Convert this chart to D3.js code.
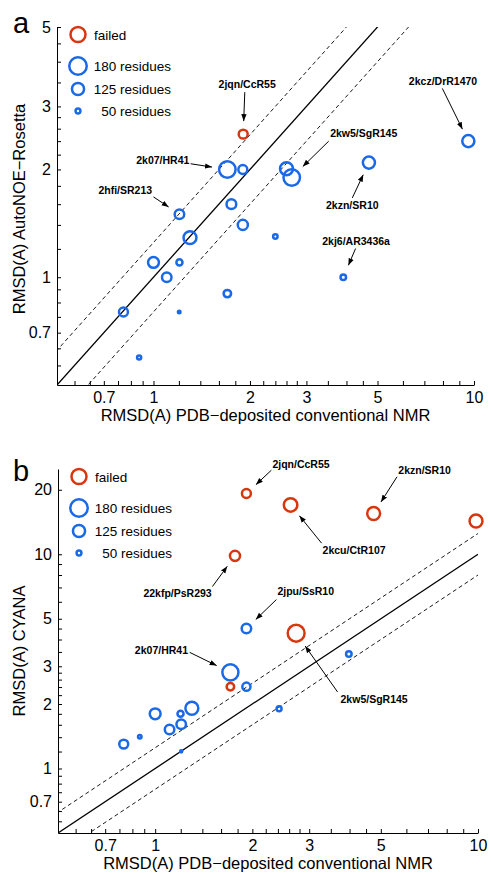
<!DOCTYPE html>
<html>
<head>
<meta charset="utf-8">
<script src="https://cdn.jsdelivr.net/npm/d3@7"></script>
<style>
  body { margin: 0; background: #fff; }
  text { font-family: "Liberation Sans", Arial, sans-serif; }
</style>
</head>
<body>
<svg id="fig" width="491" height="873"></svg>
<script>
// panel a: AutoNOE-Rosetta vs PDB-deposited conventional NMR
const aRef    = [1.905, 1.70, 1.90, 2.60, 2.70, 4.70, 9.6, 1.75, 1.90, 2.40, 3.91, 1.70, 1.205, 1.30, 1.0, 1.205, 1.10, 0.806, 1.203, 0.902];
const aRmsd   = [2.51, 2.0, 2.0, 2.01, 1.90, 2.09, 2.40, 1.60, 1.40, 1.30, 1.0, 0.90, 1.50, 1.29, 1.10, 1.10, 1.0, 0.80, 0.80, 0.597];
const aRes    = [92, 170, 92, 133, 170, 125, 125, 100, 104, 46, 57, 77, 98, 133, 112, 63, 98, 92, 26, 42];
const aFailed = [1, 0, 0, 0, 0, 0, 0, 0, 0, 0, 0, 0, 0, 0, 0, 0, 0, 0, 0, 0];

// panel b: CYANA vs PDB-deposited conventional NMR
const bRef    = [1.917, 2.627, 4.75, 9.86, 1.767, 1.917, 2.733, 1.71, 1.71, 1.917, 2.42, 3.98, 1.0, 1.198, 1.299, 1.108, 1.204, 0.799, 0.896, 1.204];
const bRmsd   = [19.2, 17.0, 15.5, 14.3, 9.83, 4.50, 4.28, 2.81, 2.41, 2.41, 1.90, 3.42, 1.80, 1.80, 1.91, 1.52, 1.61, 1.30, 1.408, 1.203];
const bRes    = [92, 139, 133, 133, 104, 98, 174, 166, 77, 84, 51, 57, 112, 63, 133, 98, 98, 92, 36, 22];
const bFailed = [1, 1, 1, 1, 1, 0, 1, 0, 1, 0, 0, 0, 0, 0, 0, 0, 0, 0, 0, 0];

// labelled structures (index into the arrays above)
const aNames = ["2jqn/CcR55", "2k07/HR41", "2kw5/SgR145", "2kzn/SR10", "2kcz/DrR1470", "2kj6/AR3436a", "2hfi/SR213"];
const aNameIdx = [0, 1, 4, 5, 6, 10, 12];
const bNames = ["2jqn/CcR55", "2kzn/SR10", "2kcu/CtR107", "22kfp/PsR293", "2jpu/SsR10", "2k07/HR41", "2kw5/SgR145"];
const bNameIdx = [0, 2, 1, 4, 5, 7, 6];

// legend
const legendLabels = ["failed", "180 residues", "125 residues", "50 residues"];
const legendRes = [155, 180, 125, 50];
const legendFailed = [1, 0, 0, 0];

// ticks
const xMajor = [0.7, 1, 2, 3, 5, 10];
const xMinor = [0.567, 0.633, 0.775, 0.85, 0.925, 1.2, 1.4, 1.6, 1.8, 2.2, 2.4, 2.6, 2.8, 3.5, 4, 4.5, 6, 7, 8, 9];
const aYMajor = [0.7, 1, 2, 3, 5];
const aYMinor = [0.567, 0.633, 0.775, 0.85, 0.925, 1.2, 1.4, 1.6, 1.8, 2.2, 2.4, 2.6, 2.8, 3.5, 4, 4.5];
const bYMajor = [0.7, 1, 2, 3, 5, 10, 20];
const bYMinor = [0.567, 0.633, 0.775, 0.85, 0.925, 1.2, 1.4, 1.6, 1.8, 2.2, 2.4, 2.6, 2.8, 3.5, 4, 4.5, 6, 7, 8, 9];

// reference lines y = f * x
const diagFactors = [1, 1.25, 0.8];

const BLUE = "#1a69e6", RED = "#d7370f";
const svg = d3.select("#fig");
const defs = svg.append("defs");
defs.append("marker")
  .attr("id", "arrow")
  .attr("viewBox", "0 0 10 10")
  .attr("refX", 10).attr("refY", 5)
  .attr("markerWidth", 7).attr("markerHeight", 7)
  .attr("markerUnits", "userSpaceOnUse")
  .attr("orient", "auto")
  .append("path").attr("d", "M0,1.2L10,5L0,8.8Z").attr("fill", "#000");

const radius = n => n * 0.0485;

function drawPanel(cfg) {
  const g = svg.append("g");
  const x = d3.scaleLog().domain([0.5, 10]).range(cfg.xr);
  const y = d3.scaleLog().domain(cfg.yd).range(cfg.yr);

  defs.append("clipPath").attr("id", "clip-" + cfg.key)
    .append("rect")
    .attr("x", cfg.xr[0]).attr("y", cfg.yr[1])
    .attr("width", cfg.xr[1] - cfg.xr[0]).attr("height", cfg.yr[0] - cfg.yr[1]);

  // diagonals
  const lg = g.append("g").attr("clip-path", `url(#clip-${cfg.key})`);
  diagFactors.forEach(f => {
    lg.append("line")
      .attr("x1", x(0.3)).attr("y1", y(0.3 * f))
      .attr("x2", x(10)).attr("y2", y(10 * f))
      .attr("stroke", "#000")
      .attr("stroke-width", f === 1 ? 1.3 : 0.9)
      .attr("stroke-dasharray", f === 1 ? null : "4,3");
  });

  // axes
  const fmt = majors => d => majors.includes(d) ? String(d) : "";
  const xa = g.append("g").attr("transform", `translate(0,${cfg.yr[0]})`)
    .call(d3.axisBottom(x).tickValues(xMajor.concat(xMinor)).tickSizeInner(-4).tickSizeOuter(0)
      .tickPadding(7).tickFormat(fmt(xMajor)));
  const ya = g.append("g").attr("transform", `translate(${cfg.xr[0]},0)`)
    .call(d3.axisLeft(y).tickValues(cfg.yMajor.concat(cfg.yMinor)).tickSizeInner(-4).tickSizeOuter(0)
      .tickPadding(6).tickFormat(fmt(cfg.yMajor)));
  [xa, ya].forEach(a => {
    a.attr("font-family", null).attr("font-size", null);
    a.selectAll("text").attr("font-size", "16px").attr("fill", "#000");
    a.selectAll("line,path").attr("stroke", "#000");
  });

  // axis titles
  g.append("text")
    .attr("x", (cfg.xr[0] + cfg.xr[1]) / 2).attr("y", cfg.yr[0] + 36)
    .attr("text-anchor", "middle").attr("font-size", "16.5px")
    .text("RMSD(A) PDB\u2212deposited conventional NMR");
  g.append("text")
    .attr("transform", `translate(25,${(cfg.yr[0] + cfg.yr[1]) / 2 + cfg.ylabShift}) rotate(-90)`)
    .attr("text-anchor", "middle").attr("font-size", "16.5px")
    .text(cfg.ylabel);

  // panel letter
  g.append("text").attr("x", 13).attr("y", cfg.yr[1] + cfg.letterDy)
    .attr("font-size", "29px").text(cfg.letter);

  // points
  const pts = cfg.xs.map((v, i) => ({ x: v, y: cfg.ys[i], n: cfg.res[i], failed: cfg.failed[i] }));
  g.append("g").selectAll("circle").data(pts).join("circle")
    .attr("cx", d => x(d.x)).attr("cy", d => y(d.y))
    .attr("r", d => radius(d.n))
    .attr("fill", "none")
    .attr("stroke", d => d.failed ? RED : BLUE)
    .attr("stroke-width", 2.5);

  // legend
  const leg = g.append("g");
  const legY = [7.5, 39, 62, 84];
  legendLabels.forEach((lab, i) => {
    const cy = cfg.yr[1] + legY[i];
    leg.append("circle").attr("cx", cfg.xr[0] + 21).attr("cy", cy)
      .attr("r", radius(legendRes[i])).attr("fill", "none")
      .attr("stroke", legendFailed[i] ? RED : BLUE).attr("stroke-width", 2.5);
    leg.append("text")
      .attr("x", legendFailed[i] ? cfg.xr[0] + 37 : cfg.xr[0] + 114)
      .attr("y", cy + 5)
      .attr("text-anchor", legendFailed[i] ? "start" : "end")
      .attr("font-size", "13.5px").text(lab);
  });

  // annotations
  cfg.notes.forEach((nt, k) => {
    const p = pts[cfg.noteIdx[k]];
    const cx = x(p.x), cy = y(p.y);
    const tx = cx + nt[1], ty = cy + nt[2];
    const ax = cx + nt[3], ay = cy + nt[4];
    const dx = cx - ax, dy = cy - ay, dist = Math.hypot(dx, dy);
    const stop = Math.max(radius(p.n) + 1.25 + 6, 13);
    g.append("line")
      .attr("x1", ax).attr("y1", ay)
      .attr("x2", cx - dx / dist * stop).attr("y2", cy - dy / dist * stop)
      .attr("stroke", "#000").attr("stroke-width", 1)
      .attr("marker-end", "url(#arrow)");
    g.append("text").attr("x", tx).attr("y", ty)
      .attr("text-anchor", nt[0]).attr("font-size", "10.5px").attr("font-weight", "bold")
      .text(cfg.names[k]);
  });
}

// annotation layout: [anchor, text dx, text dy, arrow tail dx, arrow tail dy] relative to the point
drawPanel({
  key: "a", letter: "a", letterDy: 6,
  xr: [57, 474], yr: [385, 27], yd: [0.5, 5],
  yMajor: aYMajor, yMinor: aYMinor,
  ylabel: "RMSD(A) AutoNOE\u2212Rosetta", ylabShift: 3,
  xs: aRef, ys: aRmsd, res: aRes, failed: aFailed,
  names: aNames, noteIdx: aNameIdx,
  notes: [
    ["middle", 4, -46, 1.6, -42],
    ["end", -38, -5.4, -36.7, -5.7],
    ["start", 38.4, -40.6, 37, -36.3],
    ["middle", -16.6, 46.3, -16.6, 35.3],
    ["middle", -25.3, -56, -26, -52.7],
    ["middle", 12.8, -32.3, 12.3, -28.7],
    ["end", -27.3, -20, -26, -17.3]
  ]
});

drawPanel({
  key: "b", letter: "b", letterDy: 12,
  xr: [58, 478], yr: [833, 469], yd: [0.5, 25],
  yMajor: bYMajor, yMinor: bYMinor,
  ylabel: "RMSD(A) CYANA", ylabShift: 0,
  xs: bRef, ys: bRmsd, res: bRes, failed: bFailed,
  names: bNames, noteIdx: bNameIdx,
  notes: [
    ["start", 26, -26, 25, -23.4],
    ["start", 24.7, -39.4, 23.4, -36.7],
    ["start", 32, 48.7, 31, 38.3],
    ["end", -23.3, 41.4, -22.6, 30.7],
    ["start", 31, -33.3, 30, -29],
    ["end", -42.4, -18.3, -40.7, -20],
    ["start", 44.4, 69.3, 41.4, 58.7]
  ]
});
</script>
</body>
</html>
